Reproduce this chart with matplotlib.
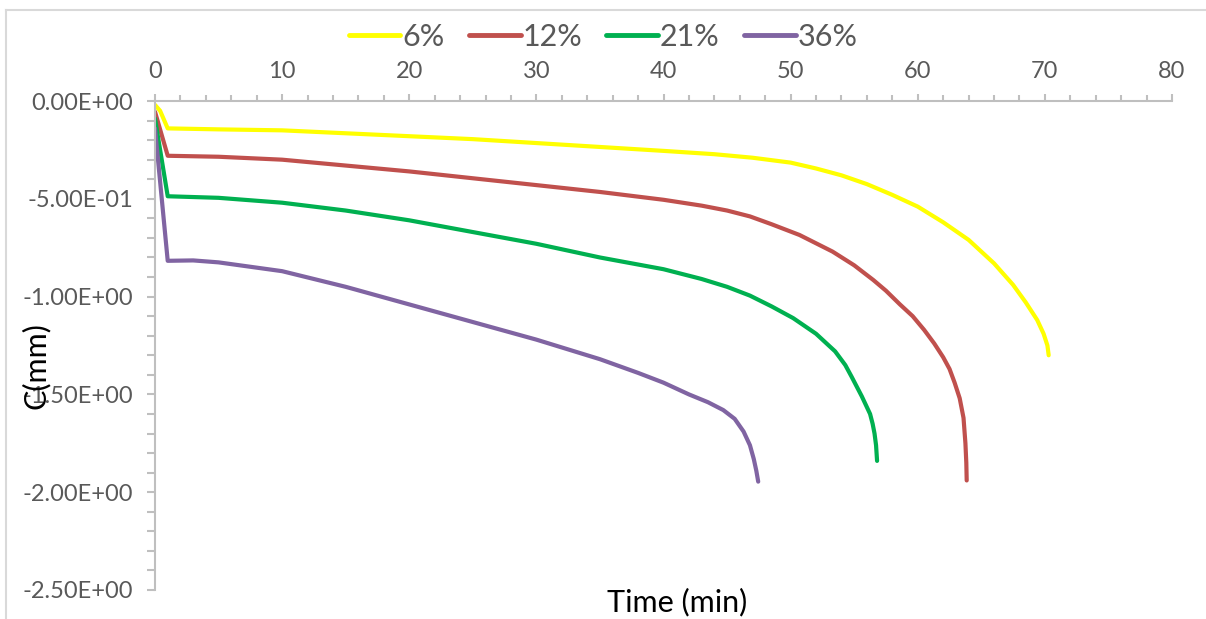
import matplotlib
matplotlib.use("Agg")
import matplotlib.pyplot as plt
from matplotlib.ticker import MultipleLocator, FuncFormatter
from matplotlib.lines import Line2D

plt.rcParams['font.family'] = ['Lato', 'DejaVu Sans']

# Time (min) and C (mm) for each concentration
t_6 = [0, 0.4, 1, 5, 10, 15, 20, 25, 30, 35, 40, 44, 47, 50, 52, 54, 56, 58, 60,
       62, 64, 66, 67.5, 68.5, 69.4, 69.9, 70.2, 70.3]
c_6 = [-0.02, -0.05, -0.14, -0.145, -0.15, -0.165, -0.18, -0.195, -0.215, -0.235,
       -0.255, -0.272, -0.29, -0.315, -0.345, -0.38, -0.425, -0.48, -0.54, -0.62,
       -0.71, -0.83, -0.94, -1.03, -1.12, -1.19, -1.25, -1.30]

t_12 = [0, 1, 5, 10, 15, 20, 25, 30, 35, 40, 43, 45, 46.8, 48.5, 50.7, 53.3, 55,
        56.5, 57.5, 58.6, 59.6, 60.5, 61.3, 62, 62.5, 62.9, 63.3, 63.6, 63.75,
        63.82, 63.85]
c_12 = [-0.055, -0.28, -0.285, -0.30, -0.33, -0.36, -0.395, -0.43, -0.465, -0.505,
        -0.535, -0.56, -0.59, -0.63, -0.685, -0.77, -0.84, -0.915, -0.97, -1.04,
        -1.10, -1.17, -1.24, -1.31, -1.37, -1.44, -1.52, -1.62, -1.75, -1.85, -1.94]

t_21 = [0, 1, 5, 10, 15, 20, 25, 30, 35, 40, 43, 45, 46.8, 48.5, 50.2, 52, 53.5,
        54.3, 54.8, 55.6, 56.25, 56.45, 56.6, 56.72, 56.8]
c_21 = [-0.09, -0.487, -0.495, -0.52, -0.56, -0.61, -0.67, -0.73, -0.80, -0.86,
        -0.91, -0.95, -0.995, -1.05, -1.11, -1.19, -1.28, -1.35, -1.41, -1.51, -1.60,
        -1.65, -1.70, -1.76, -1.84]

t_36 = [0, 1, 3, 5, 10, 15, 20, 25, 30, 35, 38, 40, 42, 43.5, 44.7, 45.6, 46.3,
        46.8, 47.1, 47.3, 47.45]
c_36 = [-0.14, -0.817, -0.815, -0.825, -0.87, -0.95, -1.04, -1.13, -1.22, -1.32,
        -1.39, -1.44, -1.50, -1.54, -1.58, -1.625, -1.69, -1.76, -1.83, -1.89, -1.946]

labels = ['6%', '12%', '21%', '36%']
colors = ['#FFFF00', '#C0504D', '#00B050', '#8064A2']
series = [(t_6, c_6), (t_12, c_12), (t_21, c_21), (t_36, c_36)]

W, H = 1206, 619
fig = plt.figure(figsize=(W / 100, H / 100), dpi=100)
ax = fig.add_axes([155 / W, 1 - 590 / H, (1172 - 155) / W, (590 - 101) / H])

for (t, c), lab, col in zip(series, labels, colors):
    ax.plot(t, c, color=col, lw=3.0, label=lab, solid_capstyle='round',
            solid_joinstyle='round')

ax.set_xlim(0, 80)
ax.set_ylim(-2.5, 0)

grey = '#BFBFBF'
for s in ['right', 'bottom']:
    ax.spines[s].set_visible(False)
for s in ['top', 'left']:
    ax.spines[s].set_color(grey)
    ax.spines[s].set_linewidth(1.5)

ax.xaxis.tick_top()
ax.xaxis.set_major_locator(MultipleLocator(10))
ax.xaxis.set_minor_locator(MultipleLocator(2))
ax.yaxis.set_major_locator(MultipleLocator(0.5))
ax.yaxis.set_minor_locator(MultipleLocator(0.1))


def sci(v, pos):
    if abs(v) < 1e-12:
        v = 0.0
    return f"{v:.2E}"


ax.yaxis.set_major_formatter(FuncFormatter(sci))
ax.tick_params(axis='both', which='both', direction='out', color=grey, width=1.5,
               labelcolor='#595959', labelsize=17)
ax.tick_params(axis='x', which='major', length=5, pad=9)
ax.tick_params(axis='x', which='minor', length=4.5)
ax.tick_params(axis='y', which='major', length=6, pad=10)
ax.tick_params(axis='y', which='minor', length=6)

fig.text(677 / W, 1 - 602 / H, 'Time (min)', ha='center', va='center',
         fontsize=22, color='black')
fig.text(36 / W, 1 - 366 / H, 'C(mm)', ha='center', va='center', rotation=90,
         fontsize=22, color='black')

handles = [Line2D([0], [0], color=c, lw=3.5, solid_capstyle='round') for c in colors]
fig.legend(handles, labels, loc='center', bbox_to_anchor=(603 / W, 1 - 37 / H),
           ncol=4, frameon=False, fontsize=22, handlelength=1.7, handletextpad=0.05,
           columnspacing=0.8, labelcolor='#595959')

# chart area frame
fig.add_artist(Line2D([6 / W, 6 / W], [0, 1 - 10 / H], color='#D9D9D9', lw=1.5,
                      transform=fig.transFigure))
fig.add_artist(Line2D([6 / W, 1], [1 - 10 / H, 1 - 10 / H], color='#D9D9D9', lw=1.5,
                      transform=fig.transFigure))

fig.savefig('out.png', dpi=100, facecolor='white')
